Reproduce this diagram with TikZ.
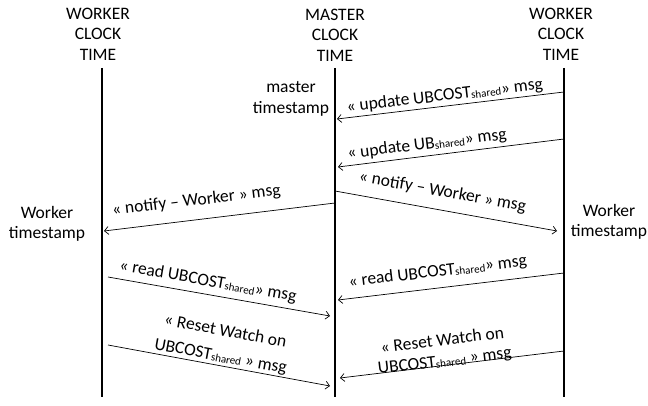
\documentclass[tikz,border=0pt]{standalone}
\usepackage{fontspec}
\setmainfont{Carlito}
\usetikzlibrary{arrows.meta}
\newcommand{\shrd}{\raisebox{-1pt}{\fontsize{11}{11}\selectfont shared}}
\tikzset{
  lifeline/.style={line width=1.6pt},
  msg/.style={-{Straight Barb[length=4pt,width=8pt]}, line width=0.7pt},
  lbl/.style={sloped, anchor=south, inner sep=1pt, align=center},
  head/.style={align=center, inner sep=0pt},
}
\begin{document}
\begin{tikzpicture}[x=1pt,y=-1pt,font=\fontsize{17.5}{20.5}\selectfont]
			\useasboundingbox (0,0) rectangle (648,406);
			\node[head] (WL) at (98,33.9) {WORKER\\CLOCK\\TIME};
			\node[head] (MC) at (335,35.3) {MASTER\\CLOCK\\TIME};
			\node[head] (WR) at (561,33.9) {WORKER\\CLOCK\\TIME};
			\coordinate (WLt) at (102,68);
			\coordinate (WLb) at (102,397);
			\coordinate (MCt) at (335,68);
			\coordinate (MCb) at (335,397);
			\coordinate (WRt) at (564,68);
			\coordinate (WRb) at (564,397);
			\draw[lifeline] (WLt) -- (WLb);
			\draw[lifeline] (MCt) -- (MCb);
			\draw[lifeline] (WRt) -- (WRb);
			\node[head] (mts) at (291,98.7) {master\\timestamp};
			\node[head] (wtsL) at (47,224) {Worker\\timestamp};
			\node[head] (wtsR) at (609,222) {Worker\\timestamp};
			\coordinate (r1) at (564,92);
			\coordinate (m1) at (337,119);
			\coordinate (r2) at (564,139);
			\coordinate (m2) at (338,167);
			\coordinate (m3) at (335,203);
			\coordinate (l3) at (104,231);
			\coordinate (m4) at (335,191);
			\coordinate (r4) at (557,231);
			\coordinate (l5) at (108,277);
			\coordinate (m5) at (330,316);
			\coordinate (r6) at (564,273);
			\coordinate (m6) at (338,300);
			\coordinate (l7) at (108,345);
			\coordinate (m7) at (330,386);
			\coordinate (r8) at (564,351);
			\coordinate (m8) at (340,378);
			\draw[msg] (r1) -- node[lbl, pos=0.52, above=1pt] {« update UBCOST\shrd» msg} (m1);
			\draw[msg] (r2) -- node[lbl, pos=0.6, above=2.5pt] {« update UB\shrd» msg} (m2);
			\draw[msg] (m3) -- node[lbl, pos=0.59, above=10pt] {« notify – Worker » msg} (l3);
			\draw[msg] (m4) -- node[lbl, pos=0.47, above=9pt] {« notify – Worker » msg} (r4);
			\draw[msg] (l5) -- node[lbl, pos=0.44, above=4pt] {« read UBCOST\shrd» msg} (m5);
			\draw[msg] (r6) -- node[lbl, pos=0.55, above=7pt] {« read UBCOST\shrd» msg} (m6);
			\draw[msg] (l7) -- node[lbl, pos=0.5, above=0pt] {« Reset Watch on\\[5pt]UBCOST\shrd{} » msg} (m7);
			\draw[msg] (r8) -- node[lbl, pos=0.53, above=-5pt] {« Reset Watch on\\UBCOST\shrd{} » msg} (m8);
\end{tikzpicture}
\end{document}
